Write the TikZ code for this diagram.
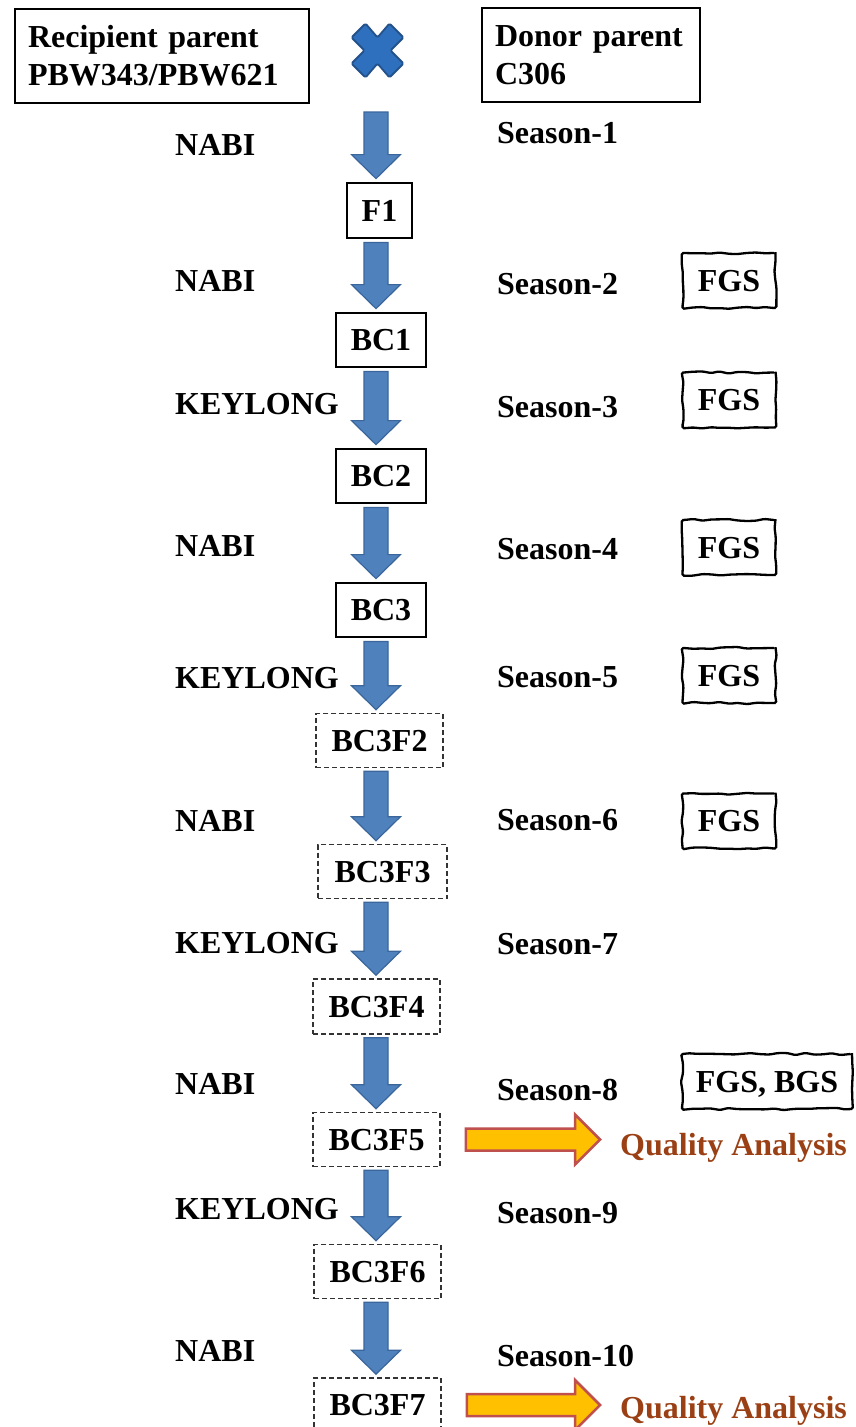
\documentclass[tikz,border=0pt]{standalone}
\usepackage{fontspec}
\setmainfont{Liberation Serif}
\usetikzlibrary{calc,decorations.pathmorphing}
\definecolor{arrowblue}{HTML}{4F81BD}
\definecolor{arrowedge}{HTML}{3A669C}
\definecolor{crossblue}{HTML}{2E70BE}
\definecolor{crossedge}{HTML}{24528A}
\definecolor{qfill}{HTML}{FFC000}
\definecolor{qedge}{HTML}{C0504D}
\definecolor{qtext}{HTML}{9A4014}
\tikzset{
  txt/.style={font=\fontsize{32}{38}\selectfont\bfseries},
  lbl/.style={txt, anchor=base west, inner sep=0pt},
  qlbl/.style={lbl, text=qtext},
  parentbox/.style={txt, draw, line width=2pt, align=left, inner xsep=13pt, inner ysep=0pt, minimum height=94pt, anchor=north west},
  genbox/.style={txt, draw, line width=2.8pt, inner sep=0pt, minimum width=90pt, minimum height=54pt, text height=21pt, text depth=0pt},
  selbox/.style={txt, draw=black!80, line width=1.6pt, dash pattern=on 5pt off 3pt, inner sep=0pt, minimum width=127pt, minimum height=54pt, text height=21pt, text depth=0pt},
  fgsbox/.style={txt, draw, line width=2.3pt, inner sep=0pt, minimum width=93pt, minimum height=55pt, text height=21pt, text depth=0pt, decorate, decoration={random steps, segment length=9pt, amplitude=1.1pt}, rounded corners=1.5pt},
  blkarr/.style={fill=arrowblue, draw=arrowedge, line width=1.2pt, line join=miter},
  qarr/.style={fill=qfill, draw=qedge, line width=2.5pt, line join=miter},
  crossst/.style={fill=crossblue, draw=crossedge, line width=1.8pt, line join=round, rounded corners=1.5pt}
}
\newcommand\blkarrow[2]{%
  \draw[blkarr] let \p1=#1, \p2=#2 in
    (364pt,\y1-3pt) -- (388pt,\y1-3pt) -- (388pt,\y2+27pt) -- (400.5pt,\y2+27pt)
    -- (376pt,\y2+3pt) -- (351.5pt,\y2+27pt) -- (364pt,\y2+27pt) -- cycle;}
\newcommand\qarrow[2]{%
  \draw[qarr] let \p1=#1, \p2=#2 in
    (\x1+25pt,\y1+11pt) -- (\x2-45pt,\y1+11pt) -- (\x2-45pt,\y1+25pt) -- (\x2-20pt,\y1)
    -- (\x2-45pt,\y1-25pt) -- (\x2-45pt,\y1-11pt) -- (\x1+25pt,\y1-11pt) -- cycle;}
\begin{document}
\begin{tikzpicture}[x=1pt,y=-1pt]
\pgfmathsetseed{7}
\useasboundingbox (0,0) rectangle (855,1427);
\fill[white] (0,0) rectangle (855,1427);

% parents and cross
\node[parentbox, text width=268pt] (rec) at (14,8) {Recipient parent\\PBW343/PBW621};
\node[parentbox, text width=192pt] (don) at (481,7) {Donor parent\\C306};
\draw[crossst, shift={(377.5,50.5)}] (-26,-13) -- (-12,-27) -- (0,-13) -- (12,-27) -- (26,-13) -- (13,0)
  -- (26,13) -- (12,27) -- (0,13) -- (-12,27) -- (-26,13) -- (-13,0) -- cycle;
\coordinate (start) at (376,109);

% generation boxes
\node[genbox, minimum width=65pt, minimum height=55pt] (F1) at (379.5,210.5) {F1};
\node[genbox] (BC1) at (381,340) {BC1};
\node[genbox] (BC2) at (381,476) {BC2};
\node[genbox] (BC3) at (381,610) {BC3};
\node[selbox] (BC3F2) at (379.5,740.5) {BC3F2};
\node[selbox, minimum width=129pt] (BC3F3) at (382.5,871.5) {BC3F3};
\node[selbox, minimum height=55pt] (BC3F4) at (376.5,1006.5) {BC3F4};
\node[selbox] (BC3F5) at (376.5,1139.5) {BC3F5};
\node[selbox] (BC3F6) at (377.5,1271.5) {BC3F6};
\node[selbox] (BC3F7) at (377.5,1405) {BC3F7};

% block arrows
\blkarrow{(start)}{(F1.north)}
\blkarrow{(F1.south)}{(BC1.north)}
\blkarrow{(BC1.south)}{(BC2.north)}
\blkarrow{(BC2.south)}{(BC3.north)}
\blkarrow{(BC3.south)}{(BC3F2.north)}
\blkarrow{(BC3F2.south)}{(BC3F3.north)}
\blkarrow{(BC3F3.south)}{(BC3F4.north)}
\blkarrow{(BC3F4.south)}{(BC3F5.north)}
\blkarrow{(BC3F5.south)}{(BC3F6.north)}
\blkarrow{(BC3F6.south)}{(BC3F7.north)}

% location labels
\node[lbl] (l1) at (175,155) {NABI};
\node[lbl] (l2) at (175,291) {NABI};
\node[lbl] (l3) at (175,414) {KEYLONG};
\node[lbl] (l4) at (175,556) {NABI};
\node[lbl] (l5) at (175,688) {KEYLONG};
\node[lbl] (l6) at (175,831) {NABI};
\node[lbl] (l7) at (175,953) {KEYLONG};
\node[lbl] (l8) at (175,1094) {NABI};
\node[lbl] (l9) at (175,1219) {KEYLONG};
\node[lbl] (l10) at (175,1361) {NABI};

% seasons
\node[lbl] (s1) at (497,143) {Season-1};
\node[lbl] (s2) at (497,294) {Season-2};
\node[lbl] (s3) at (497,417) {Season-3};
\node[lbl] (s4) at (497,559) {Season-4};
\node[lbl] (s5) at (497,687) {Season-5};
\node[lbl] (s6) at (497,830) {Season-6};
\node[lbl] (s7) at (497,954) {Season-7};
\node[lbl] (s8) at (497,1100) {Season-8};
\node[lbl] (s9) at (497,1223) {Season-9};
\node[lbl] (s10) at (497,1366) {Season-10};

% selection boxes
\node[fgsbox] (g2) at (729,280.5) {FGS};
\node[fgsbox] (g3) at (729,400) {FGS};
\node[fgsbox] (g4) at (729,547.5) {FGS};
\node[fgsbox] (g5) at (729,675.5) {FGS};
\node[fgsbox] (g6) at (729,821) {FGS};
\node[fgsbox, minimum width=170pt] (g8) at (767,1081.5) {FGS, BGS};

% quality analysis
\node[qlbl] (qa1) at (620,1155) {Quality Analysis};
\node[qlbl] (qa2) at (620,1418) {Quality Analysis};
\qarrow{(BC3F5.east)}{(qa1.west)}
\qarrow{(BC3F7.east)}{(qa2.west)}
\end{tikzpicture}
\end{document}
